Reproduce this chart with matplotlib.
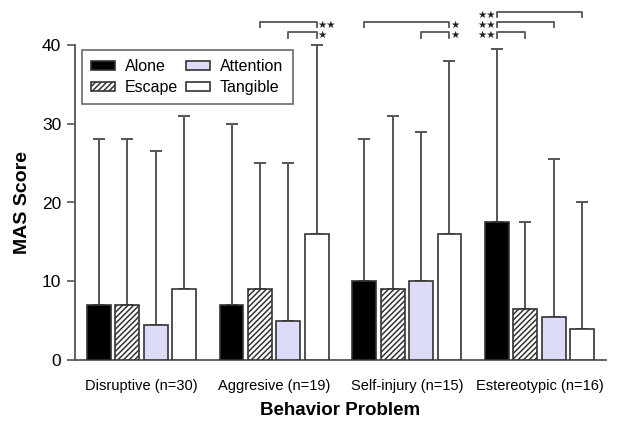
import matplotlib
matplotlib.use('Agg')
import matplotlib.pyplot as plt
import numpy as np

plt.rcParams['font.family'] = ['Liberation Sans', 'DejaVu Sans']
plt.rcParams['hatch.linewidth'] = 1.1

# data
groups = ['Disruptive (n=30)', 'Aggresive (n=19)', 'Self-injury (n=15)', 'Estereotypic (n=16)']
conditions = ['Alone', 'Escape', 'Attention', 'Tangible']

alone = [7, 7, 10, 17.5]
escape = [7, 9, 9, 6.5]
attention = [4.5, 5, 10, 5.5]
tangible = [9, 16, 16, 4]

# top of the (upper only) error bars
alone_top = [28, 30, 28, 39.5]
escape_top = [28, 25, 31, 17.5]
attention_top = [26.5, 25, 29, 25.5]
tangible_top = [31, 40, 38, 20]

# significance brackets: (group, from condition, to condition, level, label, star side)
sig = [
    (1, 1, 3, 1, '★★', 'right'),
    (1, 2, 3, 0, '★', 'right'),
    (2, 0, 3, 1, '★', 'right'),
    (2, 2, 3, 0, '★', 'right'),
    (3, 0, 3, 2, '★★', 'left'),
    (3, 0, 2, 1, '★★', 'left'),
    (3, 0, 1, 0, '★★', 'left'),
]
levels = [41.6, 42.9, 44.15]

means = [alone, escape, attention, tangible]
tops = [alone_top, escape_top, attention_top, tangible_top]
colors = ['black', 'white', '#dcdcf8', 'white']
hatches = [None, '//////', None, None]

fig = plt.figure(figsize=(6.19, 4.23), dpi=100)
ax = fig.add_axes([75 / 619, 63 / 423, 531 / 619, 315 / 423])

x = np.arange(len(groups))
step = 0.214
width = 0.18
edge = '#333333'

for k in range(4):
    pos = x + (k - 1.5) * step
    m = np.array(means[k])
    t = np.array(tops[k])
    ax.bar(pos, m, width, color=colors[k], edgecolor=edge, linewidth=1.2,
           hatch=hatches[k], label=conditions[k], zorder=3)
    ax.errorbar(pos, m, yerr=[np.zeros_like(m), t - m], fmt='none',
                ecolor='#555555', elinewidth=1.4, capsize=4.5, capthick=1.4,
                zorder=2, clip_on=False)

tick = 0.65
for g, a, b, lev, lab, side in sig:
    xa = g + (a - 1.5) * step
    xb = g + (b - 1.5) * step
    y = levels[lev]
    ax.plot([xa, xa, xb, xb], [y - tick, y, y, y - tick], color='#555555',
            lw=1.3, clip_on=False)
    if side == 'right':
        ax.text(xb + 0.006, y - 0.35, lab, ha='left', va='center', fontsize=7.5,
                family='DejaVu Sans', color='#222222', clip_on=False)
    else:
        ax.text(xa - 0.006, y - 0.35, lab, ha='right', va='center', fontsize=7.5,
                family='DejaVu Sans', color='#222222', clip_on=False)

ax.set_xlim(-0.5, 3.5)
ax.set_ylim(0, 40)
ax.set_yticks([0, 10, 20, 30, 40])
ax.set_xticks(x)
ax.set_xticklabels(groups, fontsize=10.5)
ax.tick_params(axis='x', length=0, pad=14)
ax.tick_params(axis='y', labelsize=12.5, length=6, width=1.2, color='#555555', pad=4)
for s in ['top', 'right']:
    ax.spines[s].set_visible(False)
for s in ['left', 'bottom']:
    ax.spines[s].set_color('#555555')
    ax.spines[s].set_linewidth(1.3)

ax.set_ylabel('MAS Score', fontsize=14, fontweight='bold', labelpad=8)
ax.set_xlabel('Behavior Problem', fontsize=13.5, fontweight='bold', labelpad=6)

leg = ax.legend(loc='upper left', bbox_to_anchor=(0.013, 0.985), ncol=2,
                fontsize=11.5, frameon=True, fancybox=False, edgecolor='#444444',
                handlelength=1.5, handleheight=0.5, handletextpad=0.6,
                columnspacing=0.5, borderpad=0.6, labelspacing=0.35,
                borderaxespad=0)
leg.get_frame().set_linewidth(1.2)

fig.savefig('out.png', dpi=100)
